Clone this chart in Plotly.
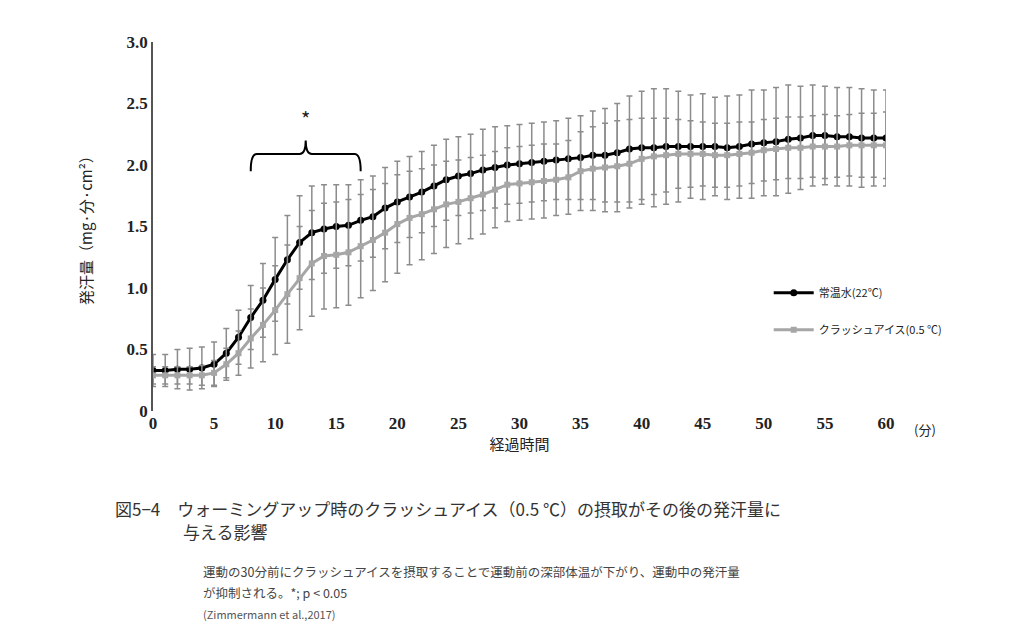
import plotly.graph_objects as go

minutes = list(range(61))

room_temp = [0.33, 0.33, 0.34, 0.34, 0.35, 0.38, 0.47, 0.60, 0.76, 0.90, 1.07, 1.23, 1.37, 1.45, 1.48,
             1.50, 1.51, 1.55, 1.58, 1.65, 1.70, 1.74, 1.78, 1.83, 1.88, 1.91, 1.93, 1.96, 1.98, 2.00,
             2.01, 2.02, 2.03, 2.04, 2.05, 2.06, 2.08, 2.08, 2.10, 2.13, 2.14, 2.14, 2.15, 2.15, 2.15,
             2.15, 2.15, 2.14, 2.15, 2.17, 2.18, 2.19, 2.21, 2.22, 2.24, 2.24, 2.23, 2.23, 2.22, 2.22, 2.22]
room_sd = [0.13, 0.13, 0.16, 0.17, 0.17, 0.18, 0.20, 0.22, 0.26, 0.30, 0.34, 0.36, 0.38, 0.38, 0.36,
           0.34, 0.33, 0.33, 0.33, 0.33, 0.33, 0.33, 0.33, 0.33, 0.33, 0.32, 0.32, 0.33, 0.33, 0.32,
           0.32, 0.32, 0.32, 0.32, 0.33, 0.34, 0.36, 0.38, 0.40, 0.43, 0.46, 0.48, 0.47, 0.45, 0.42,
           0.43, 0.40, 0.42, 0.42, 0.44, 0.43, 0.44, 0.44, 0.42, 0.41, 0.40, 0.40, 0.40, 0.40, 0.39, 0.39]
crushed_ice = [0.29, 0.29, 0.29, 0.29, 0.29, 0.31, 0.38, 0.47, 0.59, 0.70, 0.82, 0.95, 1.08, 1.20, 1.26,
               1.27, 1.29, 1.34, 1.39, 1.45, 1.52, 1.57, 1.60, 1.64, 1.68, 1.70, 1.73, 1.76, 1.80, 1.84,
               1.85, 1.86, 1.87, 1.88, 1.90, 1.95, 1.97, 1.98, 1.99, 2.01, 2.05, 2.07, 2.08, 2.09, 2.09,
               2.09, 2.08, 2.08, 2.09, 2.10, 2.12, 2.13, 2.14, 2.14, 2.15, 2.15, 2.15, 2.16, 2.16, 2.16, 2.16]
ice_sd = [0.07, 0.07, 0.07, 0.07, 0.08, 0.10, 0.13, 0.18, 0.24, 0.30, 0.36, 0.40, 0.42, 0.43, 0.43,
          0.43, 0.43, 0.42, 0.41, 0.40, 0.40, 0.38, 0.37, 0.36, 0.35, 0.34, 0.33, 0.32, 0.31, 0.30,
          0.30, 0.30, 0.30, 0.29, 0.30, 0.32, 0.34, 0.36, 0.37, 0.36, 0.33, 0.31, 0.30, 0.28, 0.27,
          0.26, 0.26, 0.26, 0.26, 0.25, 0.25, 0.25, 0.25, 0.25, 0.25, 0.26, 0.25, 0.25, 0.26, 0.26, 0.27]

x_ticks = [0, 5, 10, 15, 20, 25, 30, 35, 40, 45, 50, 55, 60]
y_ticks = [0, 0.5, 1.0, 1.5, 2.0, 2.5, 3.0]
y_labels = ["0", "0.5", "1.0", "1.5", "2.0", "2.5", "3.0"]

serif = "Liberation Serif"
jp = "Noto Sans CJK JP"
err_gray = "#8c8c8c"

W, H = 1032, 628
L, R, T, B = 145, 154, 34, 225

fig = go.Figure()
fig.add_trace(go.Scatter(
    x=minutes, y=room_temp, mode="lines+markers", name="常温水(22℃)", legendgroup="a",
    line=dict(color="black", width=3), marker=dict(symbol="circle", size=7, color="black"),
    error_y=dict(type="data", array=room_sd, color=err_gray, thickness=1.5, width=3),
))
fig.add_trace(go.Scatter(
    x=minutes, y=crushed_ice, mode="lines+markers", name="クラッシュアイス(0.5 ℃)", legendgroup="b",
    line=dict(color="#a6a6a6", width=3), marker=dict(symbol="square", size=6, color="#a6a6a6"),
    error_y=dict(type="data", array=ice_sd, color=err_gray, thickness=1.5, width=3),
))

# significance bracket over 8-17 min
fig.add_shape(type="path", path="M 8,1.95 Q 8,2.09 8.5,2.09 L 12.0,2.09 Q 12.5,2.09 12.5,2.2 "
              "Q 12.5,2.09 13.0,2.09 L 16.5,2.09 Q 17,2.09 17,1.95",
              line=dict(color="black", width=2))
fig.add_annotation(x=12.5, y=2.38, text="*", showarrow=False, font=dict(size=20, family=jp, color="#222"))

fig.add_annotation(xref="paper", yref="paper", x=1.035, y=-0.02, xanchor="left", yanchor="top",
                   text="(分)", showarrow=False, font=dict(size=13, family=jp, color="#222"))

# caption: (left px, center y px, text, size, colour) in page pixels
caption = [
    (105, 500, "図5−4　ウォーミングアップ時のクラッシュアイス（0.5 ℃）の摂取がその後の発汗量に", 17, "#333"),
    (105, 523, "　　　　与える影響", 17, "#333"),
    (193, 563, "運動の30分前にクラッシュアイスを摂取することで運動前の深部体温が下がり、運動中の発汗量", 12.5, "#444"),
    (193, 584, "が抑制される。*; p < 0.05", 12.5, "#444"),
    (193, 606, "(Zimmermann et al.,2017)", 11, "#555"),
]
pw, ph = W - L - R, H - T - B
for px, py, txt, size, col in caption:
    fig.add_annotation(xref="paper", yref="paper", x=(px - L) / pw, y=(H - B - py) / ph,
                       xanchor="left", yanchor="middle", text=txt, showarrow=False,
                       font=dict(size=size, family=jp, color=col))

fig.update_layout(
    width=W, height=H,
    paper_bgcolor="white", plot_bgcolor="white",
    margin=dict(l=L, r=R, t=T, b=B),
    showlegend=True,
    legend=dict(x=0.84, y=0.27, xanchor="left", yanchor="middle", bgcolor="rgba(0,0,0,0)",
                font=dict(size=11, family=jp, color="#222"), itemwidth=40, tracegroupgap=18),
)
fig.update_xaxes(range=[0, 60], tickvals=x_ticks, showline=False, showgrid=False, zeroline=False,
                 tickfont=dict(family=serif, size=17, color="#222", weight="bold"), ticks="",
                 title=dict(text="経過時間", font=dict(family=jp, size=15, color="#222"), standoff=2))
fig.update_yaxes(range=[0, 3.0], tickvals=y_ticks, ticktext=y_labels, showline=True, linecolor="#555",
                 linewidth=1.5, showgrid=False, zeroline=False, ticks="",
                 tickfont=dict(family=serif, size=17, color="#222", weight="bold"),
                 title=dict(text="発汗量（mg·分·cm²）", font=dict(family=jp, size=15, color="#222"), standoff=30))

fig.write_html("out.html")
